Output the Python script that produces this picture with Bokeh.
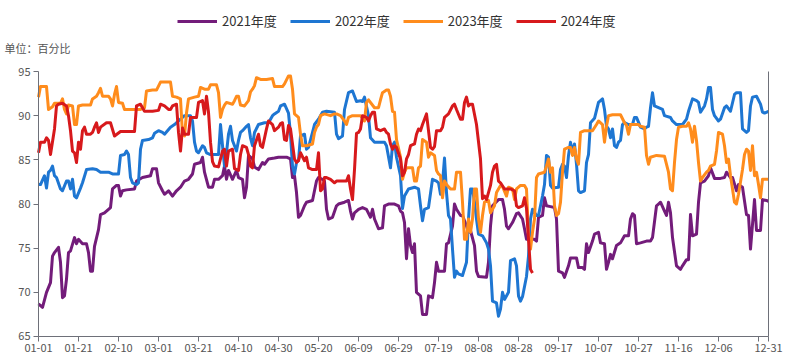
import pandas as pd
from bokeh.plotting import figure
from bokeh.models import (ColumnDataSource, Legend, LegendItem, FixedTicker, LinearAxis,
                          Label, Range1d)
from bokeh.embed import file_html
from bokeh.resources import INLINE

# ---- categories (month-day, leap-year calendar as in the source axis) ----
days = list(pd.date_range("2024-01-01", "2024-12-31").strftime("%m-%d"))
tick_idx = list(range(0, 361, 20)) + [365]
tick_labels = {i: days[i] for i in tick_idx}
tick_labels[360] = ""
y_ticks = [65, 70, 75, 80, 85, 90, 95]

# ---- series (day index, value in %) ----
d2021 = [0,2,4,6,7,8,10,11,12,13,14,15,16,18,19,20,22,24,25,26,27,28,30,31,33,35,36,37,39,40,41,42,44,48,49,52,56,57,59,60,
         62,63,65,67,69,71,73,75,77,78,81,82,83,85,87,88,90,92,93,94,95,97,99,100,102,103,104,105,107,108,110,112,113,115,118,120,
         124,126,127,128,129,130,131,133,134,137,139,140,142,143,144,145,147,149,150,153,155,156,157,158,160,162,164,166,167,168,170,172,173,175,178,180,181,
         182,183,184,185,186,187,188,189,191,192,194,195,197,198,199,200,203,204,205,207,208,209,211,212,214,215,216,218,219,220,224,225,226,227,230,232,233,234,235,237,239,240,242,243,244,
         246,248,249,250,252,253,254,256,258,259,260,262,263,265,266,269,270,272,273,274,275,277,278,280,281,283,284,285,286,287,289,291,293,295,296,297,298,299,301,
         304,306,307,309,310,311,313,314,315,316,317,319,321,322,324,325,326,327,329,330,331,333,335,336,338,341,343,344,346,347,349,350,352,354,355,356,358,359,361,362,364,365]
v2021 = [68.7,68.3,70.0,71.1,74.1,74.5,75.1,73.4,69.4,69.6,71.5,74.5,74.7,76.2,75.5,76.0,75.5,75.5,74.5,72.4,72.4,75.2,77.1,78.8,79.0,79.4,79.6,81.7,82.1,82.1,80.9,81.5,81.6,81.7,82.6,83.0,83.2,84.0,84.0,82.4,
         81.5,81.1,81.5,80.9,81.5,81.9,82.6,82.8,83.4,84.5,84.7,85.3,83.6,81.9,81.9,82.8,82.8,83.2,84.3,82.8,83.8,82.8,83.8,83.0,82.8,80.7,81.9,85.5,85.1,84.2,83.9,84.7,84.5,85.1,85.2,85.3,
         85.3,85.1,83.0,83.2,81.3,78.5,78.7,79.8,80.2,80.4,82.6,83.0,82.8,82.6,79.4,78.3,78.5,79.8,80.0,80.2,80.4,79.2,78.3,79.0,79.4,79.6,79.4,78.5,79.4,78.3,77.2,77.3,79.8,80.0,80.0,79.8,79.2,
         79.0,77.9,73.8,77.2,75.3,74.5,75.5,70.0,69.6,67.5,67.5,69.6,69.4,71.1,73.4,72.4,72.4,75.5,75.6,77.5,80.0,79.4,78.7,78.7,77.5,76.8,77.0,75.3,72.4,71.8,71.7,73.4,77.5,79.8,80.5,80.5,79.4,77.5,77.2,77.9,78.9,79.0,78.3,77.2,76.0,
         76.0,76.0,75.8,78.5,78.7,80.7,79.8,79.7,79.6,78.3,72.4,72.2,71.7,73.0,73.9,73.9,72.8,72.8,72.6,75.5,74.5,75.8,76.6,76.8,75.6,75.5,72.6,73.4,74.3,73.8,75.3,75.6,76.4,76.4,78.3,78.9,78.7,75.5,75.6,
         75.8,75.8,76.2,79.8,80.0,80.2,79.2,78.7,80.2,79.0,76.2,73.0,72.6,73.0,73.7,73.7,78.8,76.4,76.6,80.2,82.4,82.6,83.2,84.1,82.9,82.9,83.0,83.6,83.0,83.0,81.5,82.2,81.9,78.8,78.7,74.9,80.5,77.0,77.0,80.5,80.4,80.3]

d2022 = [0,1,3,4,5,6,7,8,9,11,12,14,15,16,17,18,19,21,22,24,27,29,31,35,37,40,41,43,44,45,46,47,49,50,51,52,55,57,58,60,
         62,63,66,68,70,72,73,76,77,78,79,80,82,83,84,86,90,91,92,93,94,95,96,97,99,100,101,102,104,105,106,107,108,110,113,115,117,118,120,
         121,123,125,126,127,128,129,130,131,133,134,135,137,138,140,142,144,148,149,150,152,153,155,157,158,159,161,162,163,165,166,168,170,173,174,176,177,178,179,181,
         182,183,185,188,190,191,192,193,195,197,199,200,201,202,203,204,205,206,207,208,209,210,212,214,215,216,217,218,219,220,222,224,225,226,227,229,230,231,232,233,235,236,238,239,240,241,242,
         244,245,246,247,249,250,251,252,253,254,255,256,257,260,261,262,263,264,265,266,267,268,269,270,271,273,274,275,276,278,280,282,283,284,285,286,287,288,289,290,291,292,293,295,297,298,299,301,303,
         304,305,306,307,308,310,312,313,316,317,319,322,324,325,327,329,330,331,333,334,335,336,337,338,340,341,343,344,346,348,349,351,352,354,355,356,357,359,361,362,363,365]
v2022 = [82.2,82.2,83.2,81.8,83.6,83.8,84.3,83.2,83.0,81.7,81.5,82.6,82.6,81.7,82.8,80.9,80.7,81.8,82.4,83.9,84.0,83.9,83.6,83.6,83.4,83.4,85.5,85.6,86.0,85.6,83.0,82.4,82.2,82.4,86.2,87.2,87.3,87.5,88.0,88.3,
         88.1,87.9,88.7,89.0,89.4,89.8,90.0,90.0,89.4,87.0,86.0,85.8,86.6,86.4,85.8,85.6,85.6,89.0,86.6,84.3,85.8,87.9,88.8,87.2,86.0,87.2,88.1,88.3,88.8,89.0,87.5,86.6,88.1,89.0,89.2,89.2,90.0,90.2,90.5,
         91.1,91.3,90.3,87.9,84.3,83.4,84.7,84.9,87.7,87.9,86.2,86.4,88.1,89.0,89.6,90.4,90.5,90.4,87.9,87.4,87.7,90.7,92.6,92.8,92.2,91.6,91.7,91.6,92.1,90.0,87.5,87.0,87.0,87.0,86.6,84.1,86.6,87.0,85.3,83.2,
         79.5,80.9,81.7,81.9,81.7,79.8,78.1,79.4,79.6,82.8,82.6,82.4,81.1,82.4,85.2,81.3,78.7,78.3,74.9,71.7,72.4,72.1,71.9,73.4,78.3,81.7,81.7,80.2,78.3,76.6,76.4,75.6,74.9,73.0,69.0,68.8,67.3,68.1,70.0,69.2,70.0,73.6,73.8,73.0,69.6,69.0,69.5,
         71.8,74.1,78.3,79.4,78.7,78.7,79.8,80.9,82.2,85.5,85.3,82.1,81.8,81.9,83.9,84.5,84.3,83.0,85.5,87.0,85.8,86.8,84.5,81.5,81.3,81.5,84.7,85.6,89.2,89.7,91.5,91.9,90.7,88.8,88.5,87.5,88.5,86.6,86.4,87.0,87.2,89.0,89.2,89.0,89.0,89.8,89.8,88.7,88.5,
         88.7,88.8,90.9,92.6,91.1,90.9,90.7,90.0,89.8,89.4,89.0,89.0,89.6,90.5,91.9,91.7,91.5,90.4,91.1,91.9,93.2,93.2,90.7,90.0,89.4,89.6,90.9,91.1,90.5,92.4,92.6,92.6,88.5,88.1,88.3,91.1,92.1,92.2,91.3,90.4,90.3,90.5]

d2023 = [0,1,4,5,7,8,11,12,13,14,15,17,18,19,20,22,26,27,29,30,31,32,35,36,37,38,39,40,42,43,47,51,53,54,57,59,
         61,66,67,69,71,72,73,74,75,78,80,81,83,85,86,89,90,91,92,93,94,97,98,99,100,101,103,105,106,107,108,109,111,114,117,118,122,
         123,125,126,127,128,130,131,132,134,137,138,139,140,141,143,146,148,149,151,153,154,155,157,161,163,164,165,168,170,171,172,174,175,176,177,178,179,181,
         182,183,184,187,188,189,190,191,192,194,195,196,198,199,200,201,202,203,204,206,208,209,211,212,213,214,215,216,217,218,219,220,221,222,223,225,226,228,229,231,232,234,235,237,238,239,241,243,
         244,245,246,247,248,249,250,253,254,255,256,257,258,259,260,261,262,263,265,266,267,268,269,270,271,273,277,279,280,282,283,284,285,287,291,293,294,295,296,300,301,303,
         304,305,306,309,313,315,316,317,318,319,320,322,324,325,326,327,328,329,330,331,332,334,335,336,338,339,340,342,343,344,345,346,347,348,349,350,352,353,354,355,356,357,358,359,360,361,362,365]
v2023 = [92.1,93.3,93.3,90.7,91.0,91.4,91.4,91.9,90.7,90.2,91.2,91.1,89.0,89.0,91.1,91.2,91.2,91.9,92.2,92.6,93.1,92.2,92.2,91.9,91.1,92.4,93.3,91.5,91.4,90.7,90.7,90.7,90.9,92.8,92.9,92.9,
         93.8,93.8,92.2,92.1,91.9,87.9,87.7,90.3,91.9,92.1,92.2,93.2,93.0,93.0,93.5,93.5,92.6,89.8,90.7,91.2,91.5,91.3,91.7,92.2,92.2,91.2,91.1,91.7,92.7,93.0,93.4,94.3,94.1,94.1,94.2,93.3,93.3,
         93.6,94.5,94.5,93.0,90.2,89.8,87.9,86.6,86.6,86.8,88.1,88.7,89.0,90.0,90.2,90.0,90.2,90.2,90.0,89.4,89.0,89.8,90.0,90.0,89.4,91.5,91.8,90.9,90.9,91.8,92.6,92.9,92.9,92.2,90.5,90.4,87.3,85.3,
         82.8,83.6,84.1,84.1,82.6,82.6,84.1,84.3,87.3,87.0,85.3,85.8,85.5,83.8,83.4,83.2,80.7,82.6,82.2,81.7,81.7,83.6,83.6,80.2,76.0,76.0,78.3,76.8,78.3,81.7,81.7,78.3,76.8,78.7,80.2,80.4,79.0,79.8,81.3,82.1,82.0,80.9,81.9,81.7,80.5,81.7,82.1,82.1,
         81.7,76.4,74.9,76.8,78.3,83.0,83.4,83.6,84.3,85.1,83.6,84.1,79.8,78.7,78.9,80.2,83.6,86.2,86.4,86.4,85.5,86.4,85.1,84.5,88.1,88.3,88.3,89.0,89.4,89.0,87.0,88.8,90.0,90.1,90.1,89.2,88.9,87.9,89.0,89.0,88.8,88.7,
         85.5,84.5,85.3,85.5,85.4,83.6,81.7,81.5,84.7,87.3,88.7,88.8,88.8,89.2,88.5,87.0,88.8,87.2,84.7,82.6,83.0,83.6,83.8,84.3,84.5,86.0,88.1,87.9,86.6,84.7,85.1,83.2,81.7,80.2,80.0,81.1,83.9,85.6,86.2,86.0,83.8,86.6,83.2,83.6,82.2,80.7,82.8,82.8]

d2024 = [0,1,3,4,5,6,8,9,10,12,14,15,16,17,18,19,20,21,22,23,24,26,27,28,29,30,31,34,36,38,41,45,48,49,51,53,57,
         60,61,63,65,66,67,69,70,71,72,73,75,76,79,80,82,83,84,85,86,87,88,90,91,92,93,94,95,97,98,100,101,102,104,105,106,107,108,110,111,112,114,115,117,118,120,
         121,122,123,124,125,126,127,128,129,130,131,133,134,135,137,139,140,141,142,143,144,146,148,149,151,154,155,156,157,158,159,160,161,162,164,165,166,167,168,169,171,173,174,175,176,177,178,179,181,
         182,183,184,185,186,188,189,190,191,192,194,195,196,197,198,199,201,202,203,205,207,208,209,211,212,213,214,215,216,217,219,221,222,223,224,226,227,228,229,230,231,233,236,238,239,240,242,243,244,245,246,247]
v2024 = [85.8,87.0,87.0,87.5,87.2,85.6,88.5,91.1,91.3,91.4,91.1,90.0,88.3,86.0,85.8,84.7,87.0,86.2,88.3,88.7,87.9,87.9,88.1,88.7,89.2,88.1,88.7,89.2,89.2,87.7,88.2,88.2,88.2,91.1,91.3,90.5,90.5,
         90.6,91.3,91.1,90.7,90.7,91.1,91.3,88.1,86.0,88.6,87.9,87.9,89.8,89.8,91.5,91.7,90.2,92.2,90.4,87.0,84.8,84.3,84.2,85.1,86.0,86.2,84.3,86.0,86.2,84.0,83.8,85.6,86.6,86.4,85.6,84.3,84.1,86.6,87.9,86.6,86.4,88.5,89.4,89.0,88.3,88.7,
         89.1,89.2,87.3,87.2,88.9,88.5,86.8,85.1,84.7,84.9,85.8,84.9,85.3,84.1,83.9,83.9,85.8,81.5,81.7,83.0,83.0,82.8,82.4,82.6,82.6,82.6,83.2,81.7,80.5,83.9,88.0,88.1,88.5,90.0,89.8,89.4,90.0,90.4,90.4,88.5,88.3,88.5,88.1,87.9,86.8,86.2,86.6,86.4,85.1,
         83.2,83.6,85.1,85.6,86.6,86.8,87.9,88.5,88.3,89.0,90.2,88.3,86.4,86.2,86.5,88.3,88.3,88.7,89.8,90.2,91.1,91.3,90.7,89.6,89.6,91.5,92.1,91.1,91.3,91.3,89.0,85.1,80.6,80.9,80.5,82.1,83.6,84.3,84.5,82.6,82.4,81.7,81.7,81.5,79.8,79.6,79.8,80.7,79.5,76.0,72.6,72.2]

series = [("2021年度", d2021, v2021, "#731C7A"),
          ("2022年度", d2022, v2022, "#1E76D2"),
          ("2023年度", d2023, v2023, "#FF8C1C"),
          ("2024年度", d2024, v2024, "#D7191C")]

FONT = "Noto Sans CJK SC"
AXIS_C = "#6E7079"

# The frame covers the whole canvas; all axes are pinned inside it so that the legend,
# the unit note and every tick label stay unclipped.
p = figure(width=791, height=363, output_backend="svg", toolbar_location=None,
           x_range=Range1d(-19, 376.5), y_range=Range1d(61.943, 103.04),
           min_border_left=0, min_border_right=0, min_border_top=0, min_border_bottom=0)
p.outline_line_color = None
p.grid.visible = False
p.background_fill_color = "white"
p.xaxis.visible = False
p.yaxis.visible = False

items = []
for name, d, v, c in series:
    src = ColumnDataSource(dict(x=d, y=v, day=[days[i] for i in d]))
    r = p.line("x", "y", source=src, line_color=c, line_width=3, line_join="round")
    items.append(LegendItem(label=name, renderers=[r]))

# x axis, pinned at the bottom of the value range
xa = LinearAxis(ticker=FixedTicker(ticks=tick_idx), major_label_overrides=tick_labels,
                bounds=(0, 365), fixed_location=65,
                minor_tick_line_color=None, major_tick_in=0, major_tick_out=5,
                axis_line_color=AXIS_C, major_tick_line_color=AXIS_C,
                major_label_text_color="#555555", major_label_text_font=FONT,
                major_label_text_font_size="11px", major_label_standoff=3)
p.add_layout(xa, "below")

# y axis, pinned at the first category
ya = LinearAxis(ticker=FixedTicker(ticks=y_ticks), bounds=(65, 95), fixed_location=0,
                minor_tick_line_color=None, major_tick_in=0, major_tick_out=5,
                axis_line_color=AXIS_C, major_tick_line_color=AXIS_C,
                major_label_text_color="#555555", major_label_text_font=FONT,
                major_label_text_font_size="11px", major_label_standoff=3)
p.add_layout(ya, "left")

# right-side axis line at the last category
ra = LinearAxis(ticker=FixedTicker(ticks=[]), bounds=(65, 95), fixed_location=365,
                axis_line_color=AXIS_C, major_label_text_font_size="0px",
                minor_tick_line_color=None, major_tick_line_color=None)
p.add_layout(ra, "right")

# unit note
p.add_layout(Label(x=-17, y=97.7, text="单位：百分比", text_font=FONT, text_font_size="11px",
                   text_color="#555555", text_baseline="middle", text_align="left"))

legend = Legend(items=items, orientation="horizontal", location=(177, 333),
                glyph_width=40, glyph_height=16, label_height=16, label_standoff=5, spacing=13,
                padding=0, margin=0, border_line_color=None, background_fill_alpha=0,
                label_text_font=FONT, label_text_font_size="13px", label_text_color="#333333")
p.add_layout(legend, "center")

open("out.html", "w").write(file_html(p, INLINE))
